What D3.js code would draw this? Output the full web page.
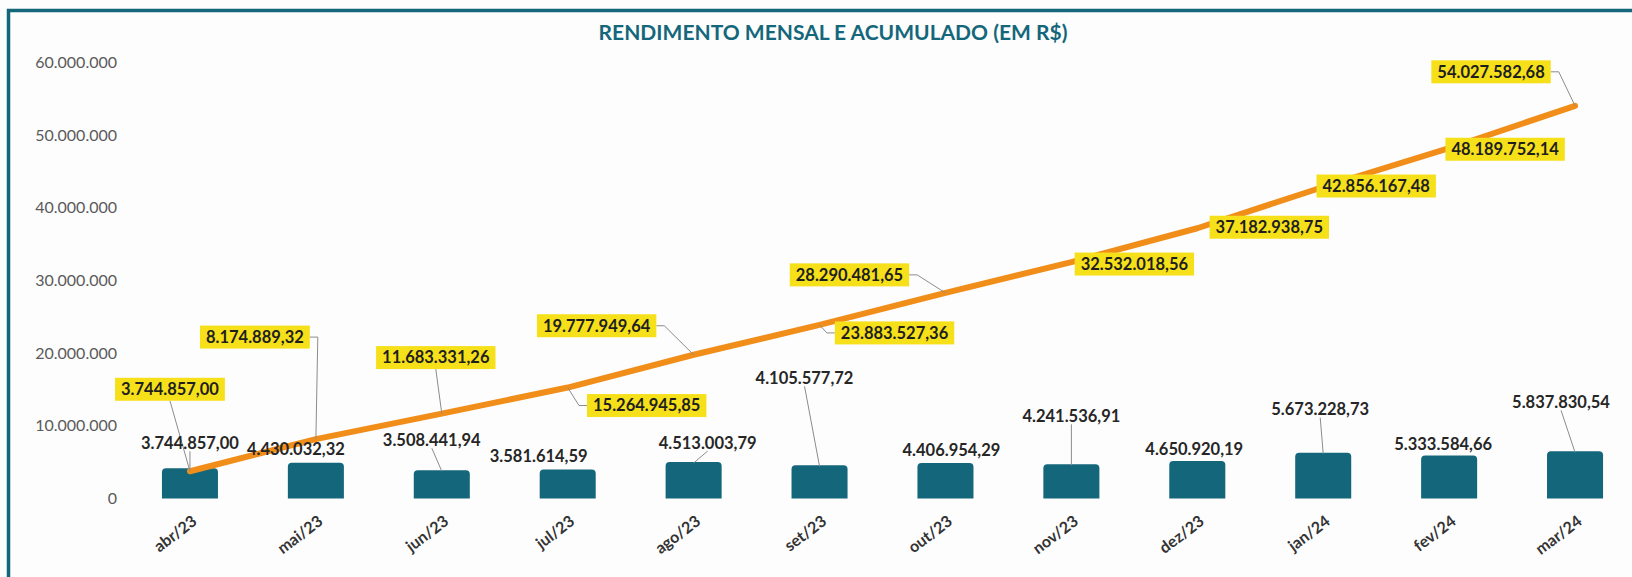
<!DOCTYPE html>
<html>
<head>
<meta charset="utf-8">
<title>Rendimento mensal e acumulado</title>
<script src="https://d3js.org/d3.v7.min.js"></script>
<style>
  body { margin: 0; background: #fdfdfd; }
  svg { display: block; font-family: Lato, "Open Sans", sans-serif; }
</style>
</head>
<body>
<div id="chart"></div>
<script>
// data
const months = ["abr/23", "mai/23", "jun/23", "jul/23", "ago/23", "set/23",
                "out/23", "nov/23", "dez/23", "jan/24", "fev/24", "mar/24"];
const monthly = [3744857.00, 4430032.32, 3508441.94, 3581614.59, 4513003.79, 4105577.72,
                 4406954.29, 4241536.91, 4650920.19, 5673228.73, 5333584.66, 5837830.54];
const cumulative = [3744857.00, 8174889.32, 11683331.26, 15264945.85, 19777949.64, 23883527.36,
                    28290481.65, 32532018.56, 37182938.75, 42856167.48, 48189752.14, 54027582.68];
const yTicks = [0, 10000000, 20000000, 30000000, 40000000, 50000000, 60000000];

// where the labels sit relative to their point (layout only)
// [dx, dy, leader side]
const cumLabelPos = [
  [-20, -82, "bottom"], [-61, -102, "right"], [-6, -56, "bottom"], [79, 18, "left"],
  [-97, -29, "right"], [75, 8, "left"], [-96, -18, "right"], [63, 2, null],
  [72, -1, null], [53, -1, null], [56, 1, null], [-84, -34, "right"]
];
// [dx, dy, leader?]
const monthLabelPos = [
  [0, -25, true], [-20, -13, false], [-10, -30, true], [-29, -13, false],
  [14, -19, true], [-15, -87, true], [6, -13, false], [0, -48, true],
  [-3, -12, false], [-3, -43, true], [-6, -11, false], [-14, -49, true]
];

const W = 1632, H = 577;
const teal = "#14677b", orange = "#f18e1a", yellow = "#f6e01a";

const locale = d3.formatLocale({decimal: ",", thousands: ".", grouping: [3], currency: ["R$ ", ""]});
const fmt2 = locale.format(",.2f");
const fmt0 = locale.format(",.0f");

const svg = d3.select("#chart").append("svg")
  .attr("width", W).attr("height", H);

svg.append("rect").attr("width", W).attr("height", H).attr("fill", "#fdfdfd");

// frame (left and top edges visible)
svg.append("path")
  .attr("d", "M8.5," + H + "V10.5H" + W)
  .attr("fill", "none").attr("stroke", teal).attr("stroke-width", 3.5);

svg.append("text")
  .attr("x", 833).attr("y", 40)
  .attr("text-anchor", "middle")
  .attr("fill", teal)
  .attr("font-size", 21).attr("font-weight", 700)
  .text("RENDIMENTO MENSAL E ACUMULADO (EM R$)");

const x = d3.scaleBand().domain(months)
  .range([127, 1638]).paddingInner(0.555).paddingOuter(0.2775);
const y = d3.scaleLinear().domain([0, 60000000]).range([498.5, 62.4]);
const yBar = d3.scaleLinear().domain([0, 54000000]).range([498.5, 62.4]);
const cx = m => x(m) + x.bandwidth() / 2;

// y axis
const yAxis = svg.append("g")
  .attr("transform", "translate(120,0)")
  .call(d3.axisLeft(y).tickValues(yTicks).tickFormat(fmt0).tickSize(0).tickPadding(3));
yAxis.select(".domain").remove();
yAxis.selectAll("text")
  .attr("font-family", "Lato, sans-serif")
  .attr("font-size", 16).attr("fill", "#5a5a5a");

// x axis labels
const xAxis = svg.append("g")
  .attr("transform", "translate(0,498.5)")
  .call(d3.axisBottom(x).tickSize(0).tickPadding(0));
xAxis.select(".domain").remove();
xAxis.selectAll("text")
  .attr("font-family", "Lato, sans-serif")
  .attr("font-size", 16).attr("font-weight", 700).attr("fill", "#333")
  .attr("text-anchor", "end")
  .attr("transform", "translate(8,25) rotate(-37)")
  .attr("dy", 0).attr("y", 0).attr("x", 0);

// bars with rounded top
const bw = x.bandwidth(), r = 4;
svg.append("g").selectAll("path")
  .data(months)
  .join("path")
  .attr("fill", teal)
  .attr("d", (m, i) => {
    const x0 = x(m), y0 = yBar(monthly[i]), y1 = yBar(0);
    return "M" + x0 + "," + y1 + "V" + (y0 + r) + "Q" + x0 + "," + y0 + " " + (x0 + r) + "," + y0 +
      "H" + (x0 + bw - r) + "Q" + (x0 + bw) + "," + y0 + " " + (x0 + bw) + "," + (y0 + r) +
      "V" + y1 + "Z";
  });

// cumulative line
const line = d3.line().x((d, i) => cx(months[i])).y(d => y(d));
svg.append("path")
  .datum(cumulative)
  .attr("d", line)
  .attr("fill", "none").attr("stroke", orange)
  .attr("stroke-width", 6).attr("stroke-linecap", "round").attr("stroke-linejoin", "round");

const leaders = svg.append("g").attr("stroke", "#8c8c8c").attr("stroke-width", 1).attr("fill", "none");

// monthly labels
const monthG = svg.append("g");
months.forEach((m, i) => {
  const px = cx(m), py = yBar(monthly[i]);
  const [dx, dy, hasLeader] = monthLabelPos[i];
  monthG.append("text")
    .attr("x", px + dx).attr("y", py + dy)
    .attr("dy", "0.35em")
    .attr("text-anchor", "middle")
    .attr("font-size", 16.5).attr("font-weight", 700).attr("fill", "#262626")
    .text(fmt2(monthly[i]));
  if (hasLeader) {
    leaders.append("line")
      .attr("x1", px + dx).attr("y1", py + dy + 8)
      .attr("x2", px).attr("y2", py + 1);
  }
});

// cumulative labels in yellow boxes
const cumG = svg.append("g");
cumulative.forEach((v, i) => {
  const px = cx(months[i]), py = y(v);
  const [dx, dy, side] = cumLabelPos[i];
  const lx = px + dx, ly = py + dy;
  const g = cumG.append("g");
  const box = g.append("rect").attr("fill", yellow);
  const t = g.append("text")
    .attr("x", lx).attr("y", ly).attr("dy", "0.35em")
    .attr("text-anchor", "middle")
    .attr("font-size", 16.5).attr("font-weight", 700).attr("fill", "#1e1e1e")
    .text(fmt2(v));
  const w = t.node().getComputedTextLength() + 12, h = 23;
  box.attr("x", lx - w / 2).attr("y", ly - h / 2).attr("width", w).attr("height", h);
  let pts = null;
  if (side === "bottom") pts = [[lx, ly + h / 2], [px, py]];
  if (side === "right") pts = [[lx + w / 2, ly], [lx + w / 2 + 8, ly], [px, py]];
  if (side === "left") pts = [[lx - w / 2, ly], [lx - w / 2 - 8, ly], [px, py]];
  if (pts) leaders.append("path").attr("d", d3.line()(pts));
});
</script>
</body>
</html>
